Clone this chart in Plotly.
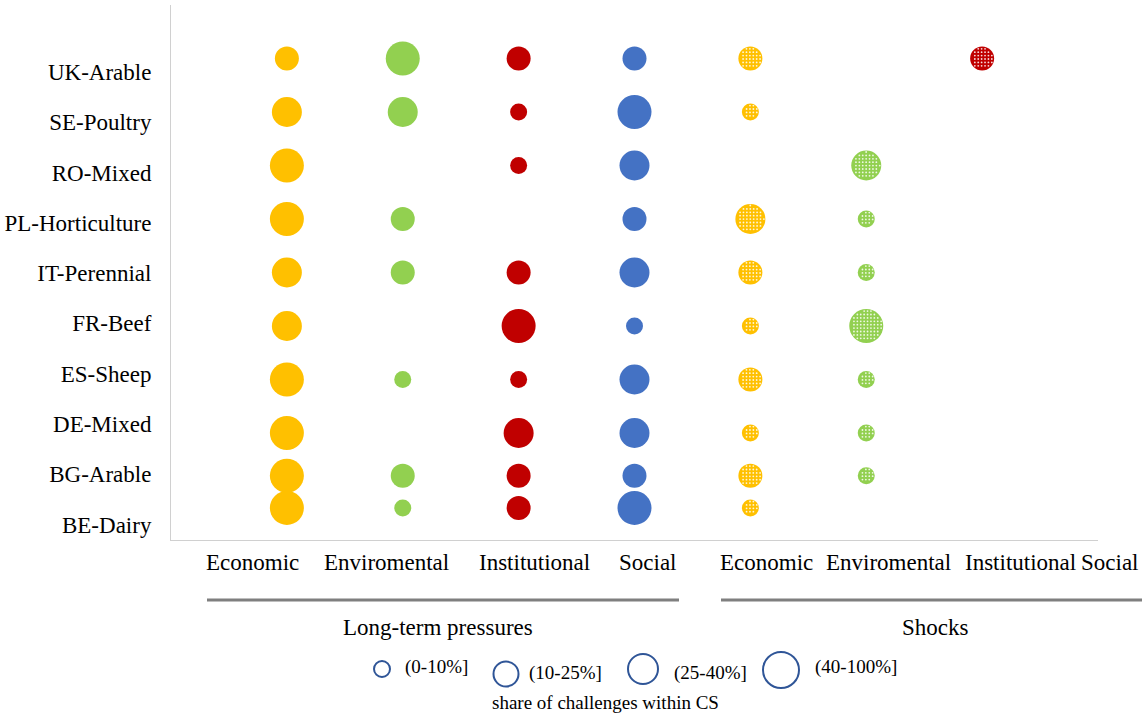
"""
Bubble chart: share of challenges within case studies (long-term pressures vs shocks)
"""

import numpy as np
import plotly.graph_objects as go

# ---- data ----
cases = ["UK-Arable", "SE-Poultry", "RO-Mixed", "PL-Horticulture", "IT-Perennial",
         "FR-Beef", "ES-Sheep", "DE-Mixed", "BG-Arable", "BE-Dairy"]
case_y = [10, 9, 8, 7, 6, 5, 4, 3, 2.2, 1.6]
case_label_y = [9.75, 8.81, 7.87, 6.93, 5.99, 5.05, 4.11, 3.17, 2.23, 1.29]

dimensions = ["Economic", "Enviromental", "Institutional", "Social"]
groups = ["Long-term pressures", "Shocks"]
share_classes = ["(0-10%]", "(10-25%]", "(25-40%]", "(40-100%]"]

# share class per case (1..4, None = no challenge)
lt_economic = [2, 3, 4, 4, 3, 3, 4, 4, 4, 4]
lt_environmental = [4, 3, None, 2, 2, None, 1, None, 2, 1]
lt_institutional = [2, 1, 1, None, 2, 4, 1, 3, 2, 2]
lt_social = [2, 4, 3, 2, 3, 1, 3, 3, 2, 4]

sh_economic = [2, 1, None, 3, 2, 1, 2, 1, 2, 1]
sh_environmental = [None, None, 3, 1, 1, 4, 1, 1, 1, None]
sh_institutional = [2, None, None, None, None, None, None, None, None, None]
sh_social = [None] * 10

# ---- style ----
colors = ["#FFC000", "#92D050", "#C00000", "#4472C4"]
class_size = {1: 17, 2: 24, 3: 30, 4: 34}
legend_size = [16, 25, 30, 36]
FONT = "Liberation Serif"

L, R, T, B = 171, 44, 5, 173
W, H = 1142, 713
plot_w, plot_h = W - L - R, H - T - B
x_range, y_range = [0, 8], [1, 11]
ux = (x_range[1] - x_range[0]) / plot_w   # data units per pixel
uy = (y_range[1] - y_range[0]) / plot_h

fig = go.Figure()

series = [lt_economic, lt_environmental, lt_institutional, lt_social,
          sh_economic, sh_environmental, sh_institutional, sh_social]

for i, vals in enumerate(series):
    xs, ys, ss = [], [], []
    for y, v in zip(case_y, vals):
        if v is None:
            continue
        xs.append(i + 1)
        ys.append(y)
        ss.append(class_size[v])
    if not xs:
        continue
    fig.add_trace(go.Scatter(
        x=xs, y=ys, mode="markers",
        marker=dict(size=ss, color=colors[i % 4], line=dict(width=0), opacity=1),
        cliponaxis=False, showlegend=False, hoverinfo="skip"))

    # dotted texture for shocks
    if i >= 4:
        dx, dy = [], []
        for x0, y0, s in zip(xs, ys, ss):
            r = s / 2 - 1.3
            steps = np.arange(-r, r + 0.01, 3.4)
            for px in steps:
                for py in steps:
                    if px * px + py * py <= r * r:
                        dx.append(x0 + px * ux)
                        dy.append(y0 + py * uy)
        fig.add_trace(go.Scatter(
            x=dx, y=dy, mode="markers",
            marker=dict(size=1.8, color="rgba(255,255,255,0.85)", line=dict(width=0)),
            cliponaxis=False, showlegend=False, hoverinfo="skip"))

# ---- axes ----
fig.update_xaxes(range=x_range, showgrid=False, zeroline=False, showticklabels=False,
                 showline=True, linecolor="#D0D0D0", linewidth=1, automargin=False)
fig.update_yaxes(range=y_range, showgrid=False, zeroline=False,
                 tickvals=case_label_y, ticktext=cases, ticks="",
                 ticklabelstandoff=14, automargin=False,
                 tickfont=dict(family=FONT, size=23, color="black"),
                 showline=True, linecolor="#D0D0D0", linewidth=1)


def px_x(p):
    return (p - L) / plot_w


def px_y(p):
    return (H - B - p) / plot_h


def text_at(xp, yp, text, size, anchor="center"):
    return dict(x=px_x(xp), y=px_y(yp), xref="paper", yref="paper",
                xanchor=anchor, yanchor="middle", text=text, showarrow=False,
                font=dict(family=FONT, size=size, color="black"))


annotations = []
# category labels under the axis
cat_label_px = [252, 386, 534, 648, 766, 888, 1020, 1110]
for k, xp in enumerate(cat_label_px):
    annotations.append(text_at(xp, 562, dimensions[k % 4], 23))
# group labels
for g, xp in zip(groups, [438, 935]):
    annotations.append(text_at(xp, 627, g, 23))

shapes = []
for x0, x1 in [(207, 679), (721, 1142)]:
    shapes.append(dict(type="line", xref="paper", yref="paper",
                       x0=px_x(x0), x1=px_x(x1), y0=px_y(600), y1=px_y(600),
                       line=dict(color="#7F7F7F", width=3)))

# size legend
legend_circle_px = [(382, 669), (506, 674), (643, 669), (781, 670)]
legend_text_px = [(403, 667), (527, 673), (672, 673), (813, 667)]
for (cx, cy), (tx, ty), d, lab in zip(legend_circle_px, legend_text_px, legend_size, share_classes):
    shapes.append(dict(type="circle", xref="paper", yref="paper",
                       xsizemode="pixel", ysizemode="pixel",
                       xanchor=px_x(cx), yanchor=px_y(cy),
                       x0=-d / 2, x1=d / 2, y0=-d / 2, y1=d / 2,
                       line=dict(color="#2F5597", width=2)))
    annotations.append(text_at(tx, ty, lab, 19, anchor="left"))
annotations.append(text_at(605, 702, "share of challenges within CS", 19))

fig.update_layout(
    template="plotly_white",
    width=W, height=H,
    paper_bgcolor="white", plot_bgcolor="white",
    margin=dict(l=L, r=R, t=T, b=B),
    showlegend=False,
    annotations=annotations,
    shapes=shapes,
)

fig.write_html("out.html",
               config={"displayModeBar": False},
               post_script="document.body.style.margin='0';"
                           "document.body.style.overflow='hidden';")
